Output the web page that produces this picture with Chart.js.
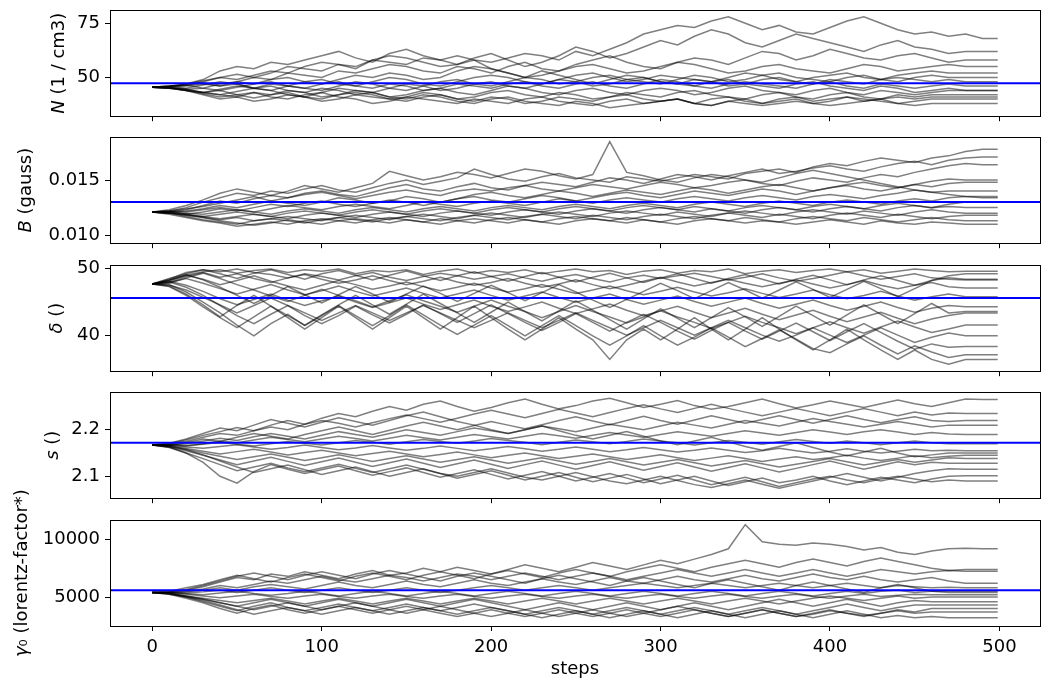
<!DOCTYPE html>
<html>
<head>
<meta charset="utf-8">
<script src="https://cdn.jsdelivr.net/npm/chart.js@4.4.0/dist/chart.umd.min.js"></script>
<style>
body { margin: 0; background: #fff; width: 1050px; height: 689px; position: relative; overflow: hidden; }
canvas { position: absolute; left: 0; }
</style>
</head>
<body>
<script>
// sampled walker positions (every 10 steps)
const steps = [0,10,20,30,40,50,60,70,80,90,100,110,120,130,140,150,160,170,180,190,200,210,220,230,240,250,260,270,280,290,300,310,320,330,340,350,360,370,380,390,400,410,420,430,440,450,460,470,480,490,499];
const xTicks = [0, 100, 200, 300, 400, 500];

const nWalkers = [
  [45.5,45.8,46.5,48,50,51.5,50,52,55,54, 53,56,55,58,57,56,59,58,60,58, 57,59,61,60,58,62,60,63,66,70, 72,74,73,76,78,75,72,74,71,70, 73,76,78,75,72,70,71,69,70,68, 68],
  [45.5,46,47,49,53,55,54,57,56,58, 60,62,59,57,61,63,60,58,56,59, 61,58,55,57,60,64,62,59,61,64, 67,65,69,72,70,66,64,67,70,68, 66,64,62,65,67,64,63,61,62,62, 62],
  [45.5,45.3,44.5,45,47,48,50,49,52,51, 50,53,52,54,56,55,53,52,55,54, 52,55,57,54,53,56,58,60,57,55, 54,57,59,58,56,59,62,61,58,60, 63,61,59,58,60,61,59,57,58,58, 58],
  [45.5,45.2,46,47,46,48,47,49,50,48, 47,49,51,50,52,51,49,50,53,55, 54,52,50,51,53,55,56,54,52,53, 55,57,56,54,52,53,55,56,54,53, 52,54,56,55,53,54,55,56,55,55, 55],
  [45.5,45,44,43,44.5,46,45,47,46,48, 49,47,46,48,50,49,47,46,48,50, 51,50,48,47,49,51,52,50,48,49, 51,50,49,48,50,52,51,49,48,50, 51,52,50,49,51,52,53,52,52,52, 52],
  [45.5,46,45,46.5,48,47,45,44,46,45, 44,46,48,47,45,44,46,48,49,47, 46,48,50,49,47,48,50,51,49,48, 47,49,51,50,48,49,51,52,50,49, 48,50,51,49,48,50,51,50,50,50, 50],
  [45.5,45.2,44,43,42,43.5,45,44,42,41, 43,45,44,43,45,47,46,44,45,47, 48,46,45,47,49,48,46,47,49,50, 48,47,49,48,46,47,49,50,48,47, 49,48,47,49,50,49,48,49,48,48, 48],
  [45.5,45.8,46.5,45,44,45.5,47,48,46,45, 47,48,46,45,47,46,44,45,47,46, 45,47,48,46,45,47,48,46,45,47, 49,48,46,45,47,48,47,46,45,47, 48,46,45,47,46,45,46,47,46,46, 46],
  [45.5,45,44.5,43,42,41,43,42,44,43, 41,42,44,43,41,42,44,45,43,42, 44,46,45,43,42,44,45,43,42,44, 45,44,42,43,45,46,44,43,42,44, 45,43,42,44,43,42,43,44,44,44, 44],
  [45.5,45.3,44,42.5,41,42,40.5,42,43,41, 40,42,43,42,40,41,43,42,40,41, 43,44,42,41,43,42,40,41,43,42, 41,43,44,42,41,40,42,43,41,40, 42,43,41,40,42,41,42,42,42,42, 42],
  [45.5,45,44,42,40,41,39,40,42,41, 39,40,42,41,40,39,41,42,40,39, 41,40,38,39,41,40,39,41,42,40, 39,40,38,40,41,39,38,40,41,39, 40,41,39,40,41,40,41,41,41,41, 41],
  [45.5,45.2,44.5,43,44,42,43,41,40,42, 43,41,40,38,39,41,40,39,38,40, 39,38,40,41,39,38,37,39,40,38, 39,40,38,37,39,40,38,39,40,38, 39,41,40,39,38,39,40,40,40,40, 40],
  [45.5,46,46.5,47.5,46,47,45,46,44,43, 45,44,42,43,41,40,42,41,39,38, 40,41,39,38,37,39,38,36,37,38, 39,40,38,37,39,38,37,38,39,38, 37,38,39,40,38,37,38,38,38,38, 38],
  [45.5,45.8,47,48.5,50,49,51,53,52,55, 57,56,54,58,60,59,57,55,56,58, 54,52,50,53,51,49,47,49,51,50, 48,47,46,48,49,47,46,45,47,48, 46,45,44,46,45,43,44,45,44,44, 44]
];

const bWalkers = [
  [.0121,.0122,.0125,.0130,.0134,.0138,.0136,.0140,.0138,.0142, .0145,.0141,.0139,.0143,.0147,.0150,.0146,.0149,.0152,.0160, .0155,.0151,.0149,.0153,.0156,.0152,.0150,.0148,.0153,.0151, .0149,.0152,.0155,.0153,.0151,.0156,.0158,.0160,.0157,.0162, .0165,.0163,.0167,.0170,.0168,.0166,.0170,.0172,.0176,.0178, .0178],
  [.0121,.0121,.0123,.0127,.0131,.0129,.0133,.0136,.0134,.0138, .0140,.0137,.0135,.0139,.0143,.0146,.0142,.0140,.0144,.0147, .0143,.0141,.0145,.0148,.0146,.0144,.0148,.0152,.0150,.0147, .0151,.0155,.0153,.0150,.0154,.0157,.0160,.0156,.0158,.0161, .0163,.0160,.0158,.0162,.0165,.0167,.0164,.0168,.0170,.0171, .0171],
  [.0121,.0122,.0124,.0126,.0129,.0132,.0135,.0131,.0134,.0137, .0139,.0136,.0133,.0136,.0139,.0141,.0138,.0136,.0140,.0142, .0140,.0143,.0145,.0142,.0140,.0143,.0146,.0144,.0142,.0145, .0148,.0146,.0143,.0145,.0148,.0150,.0147,.0145,.0149,.0152, .0150,.0148,.0152,.0155,.0153,.0157,.0160,.0163,.0165,.0164, .0164],
  [.0121,.0121,.0122,.0124,.0127,.0125,.0128,.0131,.0129,.0127, .0130,.0134,.0132,.0129,.0131,.0135,.0133,.0130,.0133,.0137, .0139,.0136,.0134,.0137,.0140,.0138,.0135,.0138,.0141,.0139, .0137,.0140,.0143,.0141,.0138,.0141,.0144,.0146,.0143,.0140, .0143,.0146,.0148,.0145,.0143,.0146,.0149,.0151,.0150,.0150, .0150],
  [.0121,.0120,.0119,.0121,.0124,.0122,.0125,.0128,.0126,.0129, .0131,.0128,.0126,.0129,.0132,.0130,.0127,.0130,.0133,.0135, .0132,.0130,.0133,.0136,.0134,.0131,.0134,.0137,.0139,.0136, .0134,.0137,.0140,.0138,.0136,.0139,.0142,.0140,.0137,.0140, .0143,.0145,.0142,.0140,.0143,.0146,.0144,.0147,.0148,.0148, .0148],
  [.0121,.0122,.0121,.0123,.0125,.0123,.0121,.0124,.0127,.0125, .0123,.0126,.0128,.0126,.0124,.0127,.0130,.0128,.0126,.0129, .0131,.0129,.0127,.0130,.0133,.0131,.0129,.0132,.0134,.0132, .0130,.0133,.0135,.0133,.0131,.0134,.0136,.0134,.0132,.0135, .0137,.0135,.0133,.0136,.0138,.0141,.0139,.0140,.0140,.0140, .0140],
  [.0121,.0121,.0120,.0119,.0121,.0123,.0121,.0119,.0122,.0124, .0122,.0120,.0123,.0125,.0123,.0121,.0124,.0126,.0124,.0122, .0125,.0127,.0125,.0123,.0126,.0128,.0126,.0124,.0127,.0129, .0127,.0125,.0128,.0130,.0128,.0126,.0129,.0131,.0129,.0127, .0130,.0132,.0130,.0128,.0131,.0133,.0131,.0134,.0135,.0135, .0135],
  [.0121,.0120,.0118,.0117,.0119,.0121,.0119,.0117,.0120,.0122, .0120,.0118,.0121,.0123,.0121,.0119,.0122,.0124,.0122,.0120, .0123,.0125,.0123,.0121,.0124,.0126,.0124,.0122,.0125,.0127, .0125,.0123,.0126,.0124,.0122,.0125,.0127,.0125,.0123,.0126, .0128,.0126,.0124,.0127,.0129,.0127,.0125,.0128,.0130,.0130, .0130],
  [.0121,.0121,.0119,.0117,.0115,.0117,.0119,.0117,.0115,.0118, .0120,.0118,.0116,.0119,.0121,.0119,.0117,.0120,.0122,.0120, .0118,.0121,.0123,.0121,.0119,.0122,.0124,.0122,.0120,.0123, .0125,.0123,.0121,.0124,.0122,.0120,.0123,.0125,.0123,.0121, .0124,.0126,.0124,.0122,.0125,.0127,.0125,.0126,.0125,.0125, .0125],
  [.0121,.0120,.0118,.0116,.0114,.0116,.0113,.0115,.0117,.0115, .0113,.0116,.0118,.0116,.0114,.0117,.0119,.0117,.0115,.0118, .0120,.0118,.0116,.0119,.0121,.0119,.0117,.0120,.0122,.0120, .0118,.0121,.0119,.0117,.0120,.0122,.0120,.0118,.0121,.0123, .0121,.0119,.0122,.0120,.0118,.0121,.0123,.0121,.0120,.0120, .0120],
  [.0121,.0120,.0117,.0114,.0112,.0110,.0113,.0115,.0113,.0111, .0114,.0116,.0114,.0112,.0115,.0117,.0115,.0113,.0116,.0118, .0116,.0114,.0117,.0119,.0117,.0115,.0118,.0116,.0114,.0117, .0119,.0117,.0115,.0118,.0120,.0118,.0116,.0119,.0117,.0115, .0118,.0120,.0118,.0116,.0119,.0117,.0115,.0117,.0118,.0118, .0118],
  [.0121,.0119,.0116,.0113,.0111,.0108,.0110,.0112,.0110,.0113, .0115,.0113,.0111,.0114,.0116,.0114,.0112,.0115,.0113,.0111, .0114,.0116,.0114,.0112,.0115,.0117,.0115,.0113,.0116,.0114, .0112,.0115,.0117,.0115,.0113,.0116,.0114,.0112,.0115,.0117, .0115,.0113,.0116,.0114,.0112,.0114,.0116,.0114,.0113,.0113, .0113],
  [.0121,.0121,.0119,.0116,.0113,.0111,.0109,.0111,.0114,.0112, .0110,.0113,.0115,.0113,.0111,.0114,.0112,.0110,.0113,.0115, .0113,.0111,.0114,.0112,.0110,.0113,.0115,.0113,.0111,.0114, .0112,.0110,.0113,.0115,.0113,.0111,.0113,.0112,.0110,.0112, .0114,.0112,.0110,.0113,.0111,.0110,.0112,.0111,.0110,.0110, .0110],
  [.0121,.0123,.0127,.0132,.0138,.0142,.0139,.0136,.0140,.0145, .0142,.0139,.0143,.0147,.0158,.0154,.0150,.0153,.0157,.0155, .0152,.0156,.0160,.0158,.0154,.0151,.0155,.0185,.0157,.0154, .0150,.0148,.0152,.0155,.0153,.0150,.0148,.0152,.0156,.0159, .0156,.0153,.0150,.0147,.0144,.0141,.0139,.0137,.0135,.0134, .0134]
];

const deltaWalkers = [
  [47.7,48.2,49,49.5,49.8,49.3,49.7,49.9,49.4,49.8, 49.6,49.9,49.2,49.7,49.5,49.8,49.1,49.6,49.9,49.3, 49.7,49.4,49.8,49.2,49.6,49.9,49.5,49.7,49.1,49.6, 49.8,49.3,49.7,49.5,49.9,49.2,49.6,49.8,49.4,49.7, 49.9,49.5,49.8,49.3,49.6,49.9,49.7,49.5,49.6,49.6, 49.6],
  [47.7,48.5,49.2,49.8,49.5,49.9,49.4,49.1,48.6,49.2, 48.8,48.3,48.9,49.4,48.7,48.2,48.8,49.3,48.9,48.4, 48.8,49.2,48.6,48.1,48.7,49.1,48.5,48.0,48.6,49.0, 48.5,48.9,49.3,48.8,48.3,48.7,49.2,48.6,48.1,48.5, 49.0,49.5,48.9,48.4,48.8,49.2,48.6,48.4,48.3,48.3, 48.3],
  [47.7,48.0,48.8,49.4,48.7,49.2,48.5,47.9,48.6,49.1, 48.4,47.8,48.3,48.9,48.2,47.6,48.1,48.7,48.0,47.5, 47.9,48.5,47.8,47.2,47.7,48.3,47.6,47.0,47.5,48.1, 48.7,48.0,47.4,47.9,48.4,47.8,47.3,47.8,48.3,47.7, 47.1,47.6,48.2,47.5,47.0,47.5,47.9,47.3,47.1,47.1, 47.1],
  [47.7,48.3,49.0,48.4,47.6,48.2,48.9,48.1,47.4,46.8, 47.5,48.2,47.6,46.9,47.4,48.0,47.3,46.7,47.2,47.8, 47.1,46.5,47.0,47.6,46.9,46.3,46.8,47.4,46.7,46.1, 46.6,47.2,46.5,45.9,46.4,47.0,46.3,45.7,46.2,46.8, 46.1,45.5,46.0,46.6,45.9,45.3,45.8,46.2,45.8,45.8, 45.8],
  [47.7,47.9,48.5,47.8,47.0,46.2,46.9,47.6,46.8,46.1, 46.7,47.4,46.6,45.9,46.5,47.1,46.3,45.6,46.2,46.8, 46.0,45.3,45.9,46.5,45.7,45.0,45.6,46.2,45.4,44.7, 45.3,45.9,45.1,44.4,45.0,45.6,44.8,44.1,44.7,45.3, 44.5,43.8,44.4,45.0,44.2,43.5,44.1,44.5,44.3,44.3, 44.3],
  [47.7,48.1,47.5,46.6,45.5,44.6,45.4,46.2,45.3,44.5, 45.2,45.9,45.0,44.2,44.9,45.6,44.7,43.9,44.6,45.3, 44.4,43.6,44.3,45.0,44.1,43.3,44.0,44.7,43.8,43.0, 43.7,44.4,43.5,42.7,43.4,44.1,43.2,42.4,43.1,43.8, 42.9,42.1,42.8,43.5,42.6,41.8,42.5,43.0,43.4,43.4, 43.4],
  [47.7,47.8,48.6,49.3,48.5,47.6,46.8,45.9,45.1,46.0, 46.9,46.0,45.2,44.3,45.2,46.1,45.2,44.4,43.5,44.4, 45.3,44.4,43.6,42.7,43.6,44.5,43.6,42.8,41.9,42.8, 43.7,42.8,42.0,41.1,42.0,42.9,42.0,41.2,40.3,41.2, 42.1,41.2,40.4,41.3,42.2,41.3,40.5,41.0,41.6,41.6, 41.6],
  [47.7,47.5,46.8,45.7,44.6,43.4,44.5,45.6,44.5,43.4, 42.3,43.4,44.5,43.4,42.3,43.4,44.5,43.4,42.3,41.2, 42.3,43.4,42.3,41.2,42.3,43.4,42.3,41.2,40.1,41.2, 42.3,41.2,40.1,41.2,42.3,41.2,40.1,39.2,40.1,41.2, 40.1,39.0,40.1,41.2,40.1,39.0,39.8,40.4,40.0,40.0, 40.0],
  [47.7,48.0,47.2,46.0,44.5,43.0,41.8,43.2,44.5,43.0, 41.8,43.0,44.4,43.1,41.9,43.2,44.6,43.3,42.0,43.3, 44.6,43.3,42.0,40.8,42.0,43.3,42.0,40.7,42.0,43.2, 42.0,40.7,39.5,40.8,42.0,40.7,39.5,40.7,41.9,40.6, 39.3,40.6,41.8,40.5,39.2,38.0,38.8,38.3,38.4,38.4, 38.4],
  [47.7,47.6,46.5,45.0,43.4,41.6,40.0,41.8,43.2,41.5, 43.0,44.5,43.0,41.5,43.0,44.6,43.1,41.6,40.2,41.6, 43.0,41.5,40.0,41.5,43.0,41.5,40.0,38.6,40.0,41.5, 40.0,38.6,39.8,41.2,39.8,38.4,39.6,40.9,39.5,38.1, 37.5,38.8,40.0,38.6,37.3,38.5,37.6,36.8,37.2,37.2, 37.2],
  [47.7,48.2,49.1,48.3,47.2,46.0,44.8,46.0,47.3,46.1, 44.9,46.1,47.3,46.2,45.0,46.2,47.4,46.3,45.1,46.3, 47.5,46.4,45.2,46.4,47.6,46.5,45.3,44.2,45.4,46.6, 47.8,46.7,45.5,46.7,47.9,46.8,45.6,46.8,48.0,46.9, 45.7,46.9,48.1,47.0,45.8,47.0,48.2,48.9,49.2,49.2, 49.2],
  [47.7,47.4,46.2,44.6,42.8,44.5,46.0,44.4,42.7,41.0, 42.7,44.4,42.7,41.0,42.7,44.4,42.7,41.0,42.7,44.4, 42.7,41.0,39.4,41.0,42.7,41.0,39.4,36.5,39.4,41.0, 39.4,41.0,42.7,41.0,39.4,41.0,42.7,41.0,39.4,37.9, 39.4,41.0,39.4,37.9,36.5,37.9,36.5,35.8,36.5,36.5, 36.5],
  [47.7,48.4,49.4,49.8,49.2,48.5,49.3,49.8,49.1,48.4, 49.2,49.7,49.0,48.3,49.0,49.6,48.9,48.2,48.9,49.5, 48.8,48.1,48.8,49.4,48.7,48.0,48.7,49.3,48.6,47.9, 48.6,49.2,48.5,47.8,48.5,49.1,48.4,47.7,48.4,49.0, 48.3,47.6,48.3,48.9,48.2,47.5,48.2,48.6,48.4,48.4, 48.4],
  [47.7,47.3,46.0,44.3,42.7,41.2,42.8,44.4,43.0,41.6, 43.1,44.6,46.0,44.6,43.2,44.7,46.2,44.8,43.4,42.0, 43.5,45.0,43.6,42.2,43.7,45.2,43.8,42.4,41.0,42.5, 44.0,42.6,41.2,42.7,44.2,42.8,41.4,42.9,44.4,43.0, 41.6,43.1,44.6,43.2,41.8,43.3,44.8,43.4,43.6,43.6, 43.6]
];

const sWalkers = [
  [2.167,2.170,2.178,2.188,2.196,2.205,2.198,2.210,2.220,2.212, 2.225,2.235,2.228,2.240,2.250,2.242,2.255,2.262,2.250,2.240, 2.248,2.258,2.266,2.255,2.245,2.252,2.262,2.268,2.258,2.248, 2.255,2.263,2.252,2.244,2.250,2.258,2.266,2.256,2.247,2.254, 2.262,2.255,2.248,2.256,2.264,2.256,2.250,2.258,2.266,2.265, 2.265],
  [2.167,2.169,2.175,2.184,2.192,2.188,2.198,2.206,2.200,2.212, 2.220,2.214,2.206,2.215,2.224,2.232,2.224,2.216,2.225,2.234, 2.242,2.234,2.226,2.235,2.244,2.236,2.228,2.237,2.246,2.254, 2.245,2.237,2.246,2.255,2.246,2.238,2.230,2.238,2.246,2.238, 2.230,2.238,2.246,2.238,2.230,2.238,2.232,2.236,2.235,2.235, 2.235],
  [2.167,2.166,2.172,2.180,2.175,2.184,2.192,2.186,2.180,2.190, 2.198,2.206,2.198,2.190,2.199,2.208,2.216,2.208,2.200,2.209, 2.218,2.210,2.202,2.211,2.220,2.228,2.219,2.211,2.220,2.229, 2.220,2.212,2.221,2.230,2.222,2.214,2.222,2.230,2.222,2.214, 2.222,2.230,2.222,2.215,2.222,2.228,2.220,2.218,2.220,2.220, 2.220],
  [2.167,2.168,2.170,2.176,2.182,2.177,2.185,2.192,2.186,2.180, 2.188,2.196,2.190,2.184,2.192,2.200,2.194,2.188,2.196,2.204, 2.198,2.192,2.200,2.208,2.202,2.196,2.204,2.212,2.206,2.200, 2.208,2.216,2.210,2.204,2.212,2.220,2.214,2.208,2.216,2.224, 2.218,2.212,2.206,2.212,2.218,2.212,2.206,2.210,2.210,2.210, 2.210],
  [2.167,2.167,2.165,2.170,2.176,2.172,2.178,2.184,2.179,2.174, 2.180,2.186,2.181,2.176,2.182,2.188,2.183,2.178,2.184,2.190, 2.185,2.180,2.186,2.192,2.187,2.182,2.188,2.194,2.189,2.184, 2.190,2.196,2.191,2.186,2.192,2.198,2.193,2.188,2.194,2.200, 2.195,2.190,2.196,2.200,2.195,2.190,2.194,2.191,2.190,2.190, 2.190],
  [2.167,2.168,2.166,2.169,2.173,2.169,2.165,2.170,2.175,2.171, 2.167,2.172,2.177,2.173,2.169,2.174,2.179,2.175,2.171,2.176, 2.181,2.177,2.173,2.168,2.173,2.178,2.174,2.170,2.175,2.180, 2.176,2.172,2.167,2.172,2.177,2.173,2.169,2.174,2.179,2.175, 2.171,2.176,2.172,2.168,2.172,2.176,2.172,2.170,2.170,2.170, 2.170],
  [2.167,2.166,2.163,2.160,2.164,2.168,2.163,2.158,2.162,2.167, 2.162,2.157,2.161,2.166,2.161,2.156,2.160,2.165,2.160,2.155, 2.159,2.164,2.159,2.154,2.158,2.163,2.158,2.153,2.157,2.162, 2.157,2.152,2.156,2.161,2.156,2.151,2.155,2.160,2.155,2.150, 2.154,2.159,2.154,2.150,2.154,2.158,2.155,2.156,2.155,2.155, 2.155],
  [2.167,2.165,2.160,2.154,2.148,2.153,2.158,2.152,2.146,2.151, 2.156,2.150,2.144,2.149,2.154,2.148,2.142,2.147,2.152,2.146, 2.140,2.145,2.150,2.144,2.138,2.143,2.148,2.142,2.136,2.141, 2.146,2.140,2.134,2.139,2.144,2.138,2.132,2.137,2.142,2.136, 2.140,2.145,2.139,2.134,2.139,2.144,2.140,2.143,2.145,2.145, 2.145],
  [2.167,2.164,2.158,2.150,2.143,2.136,2.142,2.148,2.141,2.134, 2.140,2.146,2.139,2.132,2.138,2.144,2.137,2.130,2.136,2.142, 2.135,2.128,2.134,2.140,2.133,2.126,2.132,2.138,2.131,2.124, 2.130,2.136,2.129,2.122,2.128,2.134,2.127,2.120,2.126,2.132, 2.138,2.131,2.124,2.130,2.136,2.130,2.135,2.140,2.138,2.138, 2.138],
  [2.167,2.163,2.155,2.145,2.135,2.125,2.133,2.141,2.132,2.123, 2.131,2.139,2.130,2.121,2.129,2.137,2.128,2.119,2.127,2.135, 2.126,2.117,2.125,2.133,2.124,2.115,2.123,2.131,2.122,2.113, 2.121,2.129,2.120,2.111,2.119,2.127,2.118,2.109,2.117,2.125, 2.133,2.124,2.115,2.123,2.131,2.125,2.130,2.128,2.128,2.128, 2.128],
  [2.167,2.162,2.150,2.138,2.125,2.112,2.120,2.128,2.118,2.110, 2.118,2.126,2.117,2.108,2.116,2.124,2.115,2.106,2.100,2.108, 2.116,2.107,2.098,2.092,2.100,2.108,2.099,2.090,2.084,2.092, 2.100,2.091,2.082,2.076,2.084,2.092,2.083,2.074,2.082,2.090, 2.098,2.106,2.098,2.090,2.098,2.106,2.112,2.116,2.115,2.115, 2.115],
  [2.167,2.165,2.157,2.146,2.133,2.120,2.108,2.116,2.124,2.114, 2.104,2.112,2.120,2.110,2.100,2.108,2.116,2.106,2.096,2.104, 2.112,2.102,2.092,2.100,2.108,2.098,2.088,2.096,2.104,2.094, 2.084,2.092,2.100,2.090,2.080,2.088,2.096,2.086,2.092,2.100, 2.090,2.082,2.090,2.098,2.092,2.086,2.094,2.100,2.101,2.101, 2.101],
  [2.167,2.163,2.150,2.130,2.100,2.085,2.110,2.125,2.115,2.106, 2.114,2.122,2.112,2.102,2.110,2.118,2.108,2.098,2.106,2.114, 2.104,2.094,2.102,2.110,2.100,2.090,2.098,2.106,2.096,2.086, 2.094,2.102,2.092,2.082,2.090,2.098,2.088,2.078,2.086,2.094, 2.100,2.092,2.086,2.094,2.100,2.094,2.088,2.092,2.090,2.090, 2.090],
  [2.167,2.171,2.180,2.192,2.204,2.198,2.210,2.222,2.214,2.206, 2.216,2.226,2.218,2.210,2.220,2.230,2.238,2.228,2.218,2.210, 2.200,2.192,2.200,2.208,2.198,2.188,2.180,2.188,2.196,2.186, 2.176,2.168,2.176,2.184,2.174,2.164,2.156,2.164,2.172,2.162, 2.152,2.144,2.152,2.160,2.150,2.142,2.146,2.150,2.150,2.150, 2.150]
];

const gammaWalkers = [
  [5400,5450,5600,5900,6300,6700,6500,7000,6800,7200, 6900,6600,7000,7300,6900,7100,7500,7200,7600,7300, 7000,7400,7800,7500,7200,7600,8000,7700,7400,7800, 8200,7900,8300,8700,9200,11300,9800,9600,9500,9700, 9600,9400,9100,9300,8900,8700,9000,9200,9250,9200, 9200],
  [5400,5500,5800,6100,6500,6900,6600,6300,6700,7000, 6700,6400,6800,7100,6800,6500,6900,7200,6900,6600, 7000,7300,7000,6700,7100,7400,7100,6800,7200,7500, 7800,7500,7200,7600,7900,8200,7900,7600,8000,8300, 8000,7700,8100,8400,8100,7800,7500,7300,7400,7400, 7400],
  [5400,5400,5500,5700,6000,5800,6100,6400,6200,6500, 6800,6500,6300,6600,6900,6700,6400,6700,7000,6800, 6500,6800,7100,6800,6500,6800,7100,6800,6500,6800, 7100,7400,7100,6800,7100,7400,7100,6800,7100,7400, 7100,6800,7100,7400,7200,7000,7200,7300,7250,7250, 7250],
  [5400,5400,5450,5600,5800,5600,5900,6100,5900,5700, 6000,6300,6000,5800,6100,6400,6100,5900,6200,6500, 6200,6000,6300,6600,6300,6100,6400,6700,6400,6200, 6500,6800,6500,6300,6600,6900,6600,6400,6700,7000, 6700,6500,6800,6500,6300,6500,6700,6400,6200,6200, 6200],
  [5400,5400,5350,5450,5600,5400,5600,5800,5600,5400, 5600,5800,5600,5400,5600,5800,5600,5400,5600,5800, 6000,5800,5600,5800,6000,5800,5600,5800,6000,6200, 6000,5800,6000,6200,6000,5800,6000,6200,6000,5800, 6000,6200,6000,5800,6000,5900,5800,5850,5800,5800, 5800],
  [5400,5380,5300,5200,5350,5500,5300,5150,5300,5500, 5300,5100,5300,5500,5300,5100,5300,5500,5300,5100, 5300,5500,5300,5100,5300,5500,5300,5100,5300,5500, 5300,5100,5300,5500,5300,5100,5300,5500,5300,5100, 5300,5500,5300,5500,5600,5400,5500,5500,5500,5500, 5500],
  [5400,5350,5250,5100,4950,5100,5250,5050,4900,5100, 5250,5050,4900,5100,5250,5050,4900,5100,5250,5050, 4900,5100,5250,5050,4900,5100,5250,5050,4900,5100, 5250,5050,4900,5100,5250,5050,4900,5100,5250,5050, 4900,5100,5250,5050,5150,5250,5200,5200,5200,5200, 5200],
  [5400,5300,5100,4900,4700,4500,4700,4900,4650,4400, 4650,4900,4650,4400,4650,4900,4650,4400,4650,4900, 4650,4400,4650,4900,4650,4400,4650,4900,4650,4400, 4650,4900,4650,4400,4650,4900,4650,4400,4650,4900, 5100,4900,4700,4900,5100,4900,5000,5000,5000,5000, 5000],
  [5400,5300,5050,4800,4500,4200,4500,4800,4500,4200, 4500,4800,4500,4200,4500,4800,4500,4200,4500,4800, 4500,4200,3900,4200,4500,4200,3900,4200,4500,4200, 3900,4200,4500,4200,3900,4200,4500,4800,4500,4200, 4500,4800,4500,4200,4500,4700,4600,4600,4600,4600, 4600],
  [5400,5300,5000,4600,4200,3800,4200,4500,4100,3800, 4100,4400,4100,3800,4100,4400,4100,3800,4100,4400, 4100,3800,3500,3800,4100,3800,3500,3800,4100,3800, 3500,3800,4100,3800,3500,3800,4100,3800,3500,3800, 4100,4400,4100,3800,4100,4300,4300,4300,4300,4300, 4300],
  [5400,5250,4900,4500,4000,3600,4000,4300,3900,3600, 3900,4200,3900,3600,3900,4200,3900,3600,3300,3600, 3900,3600,3300,3600,3900,3600,3300,3600,3900,3600, 3300,3600,3900,3600,3300,3600,3900,3600,3300,3600, 3900,3600,3300,3600,3900,3700,4000,4000,4000,4000, 4000],
  [5400,5300,5100,4800,4500,4200,3900,4200,4500,4200, 3900,4200,4500,4200,3900,3600,3900,4200,3900,3600, 3300,3600,3900,3600,3300,3600,3900,3600,3300,3600, 3900,4200,3900,3600,3300,3600,3900,3600,3300,3500, 3800,3600,3400,3600,3800,3600,3700,3700,3700,3700, 3700],
  [5400,5250,5000,4700,4300,3900,3500,3800,4100,3800, 3500,3800,4100,3800,3500,3800,4100,3800,3500,3800, 4100,3800,3500,3200,3500,3800,3500,3200,3500,3800, 3500,3200,3500,3800,3500,3200,3500,3800,3500,3200, 3500,3800,3500,3200,3400,3200,3300,3200,3200,3200, 3200],
  [5400,5450,5650,6000,6400,6800,7100,6800,6500,6900, 7200,6900,6600,7000,7300,7000,6700,6400,6800,7100, 6800,6500,6200,6600,6900,6600,6300,6000,6400,6700, 6400,6100,5800,6200,6500,6200,5900,5600,6000,6300, 6000,5700,5400,5800,6100,5800,5500,5400,5400,5400, 5400]
];

const truths = [47.3, 0.0130, 45.6, 2.172, 5600];
const yTicks = [[50, 75], [0.010, 0.015], [40, 50], [2.1, 2.2], [5000, 10000]];
const yRanges = [[32.1, 81.2], [0.00927, 0.01893], [34.75, 50.54], [2.0528, 2.2817], [2482, 11719]];
const yLabels = [
  [['N', true], [' (1 / cm3)', false]],
  [['B', true], [' (gauss)', false]],
  [['δ', true], [' ()', false]],
  [['s', true], [' ()', false]],
  [['γ', true], ['₀ (lorentz-factor*)', false]]
];
const walkerSets = [nWalkers, bWalkers, deltaWalkers, sWalkers, gammaWalkers];

// layout
const plotTops = [10, 137, 265, 392, 520];
const plotH = 106;
const padTop = 12;
const labelX = [59, 26, 57, 53, 22];
const FONT = 'DejaVu Sans';

const boxPlugin = {
    id: 'box',
    afterDraw(chart) {
        const a = chart.chartArea;
        const ctx = chart.ctx;
        ctx.save();
        ctx.strokeStyle = '#000';
        ctx.lineWidth = 1;
        ctx.strokeRect(Math.round(a.left) + 0.5, Math.round(a.top) + 0.5,
            Math.round(a.right - a.left), Math.round(a.bottom - a.top));
        ctx.restore();
    }
};

function fmtTick(i, v) {
    if (i === 1) return v.toFixed(3);
    if (i === 3) return v.toFixed(1);
    return String(v);
}

function buildChart(i, canvasH) {
    const last = i === 4;
    const xAxisH = last ? 63 : 8;
    const canvas = document.createElement('canvas');
    canvas.width = 1050;
    canvas.height = canvasH;
    document.body.appendChild(canvas);

    const datasets = [{
        data: [{x: -24.95, y: truths[i]}, {x: 523.95, y: truths[i]}],
        borderColor: '#0000ff',
        borderWidth: 2,
        pointRadius: 0,
        order: 0
    }];
    walkerSets[i].forEach(w => {
        datasets.push({
            data: w.map((v, k) => ({x: steps[k], y: v})),
            borderColor: 'rgba(0,0,0,0.5)',
            borderWidth: 1.5,
            pointRadius: 0,
            tension: 0,
            order: 1
        });
    });

    const gridOpts = {drawOnChartArea: false, drawTicks: true, tickLength: 5, color: '#000', tickColor: '#000', lineWidth: 1};
    const tickFont = {family: FONT, size: 18};

    const chart = new Chart(canvas, {
        type: 'line',
        data: {datasets: datasets},
        options: {
            responsive: false,
            maintainAspectRatio: false,
            animation: false,
            devicePixelRatio: 1,
            events: [],
            layout: {padding: {top: padTop, right: 10, bottom: 0, left: 0}},
            plugins: {
                legend: {display: false},
                tooltip: {enabled: false}
            },
            scales: {
                x: {
                    type: 'linear',
                    min: -24.95,
                    max: 523.95,
                    afterBuildTicks: s => { s.ticks = xTicks.map(v => ({value: v})); },
                    afterFit: s => { s.height = xAxisH; },
                    grid: gridOpts,
                    border: {display: false},
                    ticks: {display: last, color: '#000', font: tickFont, padding: 6, maxRotation: 0, autoSkip: false},
                    title: {display: last, text: 'steps', color: '#000', font: tickFont, padding: {top: 0, bottom: 9}}
                },
                y: {
                    type: 'linear',
                    min: yRanges[i][0],
                    max: yRanges[i][1],
                    afterBuildTicks: s => { s.ticks = yTicks[i].map(v => ({value: v})); },
                    afterFit: s => { s.width = 110; },
                    grid: gridOpts,
                    border: {display: false},
                    ticks: {color: '#000', font: tickFont, padding: 5, callback: v => fmtTick(i, v)}
                }
            }
        },
        plugins: [boxPlugin]
    });
    return chart;
}

function makePanel(i) {
    const last = i === 4;
    const xAxisH = last ? 63 : 8;
    let h = padTop + plotH + xAxisH;
    let chart = buildChart(i, h);
    // correct the canvas height so the plot area gets exactly plotH
    const got = chart.chartArea.bottom - chart.chartArea.top;
    if (Math.abs(got - plotH) > 0.5) {
        h += plotH - got;
        chart.canvas.remove();
        chart.destroy();
        chart = buildChart(i, Math.round(h));
    }
    chart.canvas.style.top = (plotTops[i] - chart.chartArea.top) + 'px';
    return chart;
}

const charts = [];
for (let i = 0; i < 5; i++) charts.push(makePanel(i));

// rotated axis labels on a page-wide overlay (the lowest label is taller than its panel)
const overlay = document.createElement('canvas');
overlay.width = 1050;
overlay.height = 689;
overlay.style.top = '0px';
document.body.appendChild(overlay);
const octx = overlay.getContext('2d');
charts.forEach((chart, i) => {
    const a = chart.chartArea;
    const cy = plotTops[i] + (a.bottom - a.top) / 2;
    octx.save();
    octx.translate(labelX[i], cy);
    octx.rotate(-Math.PI / 2);
    octx.fillStyle = '#000';
    octx.textBaseline = 'middle';
    let total = 0;
    yLabels[i].forEach(p => {
        octx.font = (p[1] ? 'italic ' : '') + '18px "' + FONT + '"';
        total += octx.measureText(p[0]).width;
    });
    let x = -total / 2;
    yLabels[i].forEach(p => {
        octx.font = (p[1] ? 'italic ' : '') + '18px "' + FONT + '"';
        octx.fillText(p[0], x, 0);
        x += octx.measureText(p[0]).width;
    });
    octx.restore();
});
</script>
</body>
</html>
